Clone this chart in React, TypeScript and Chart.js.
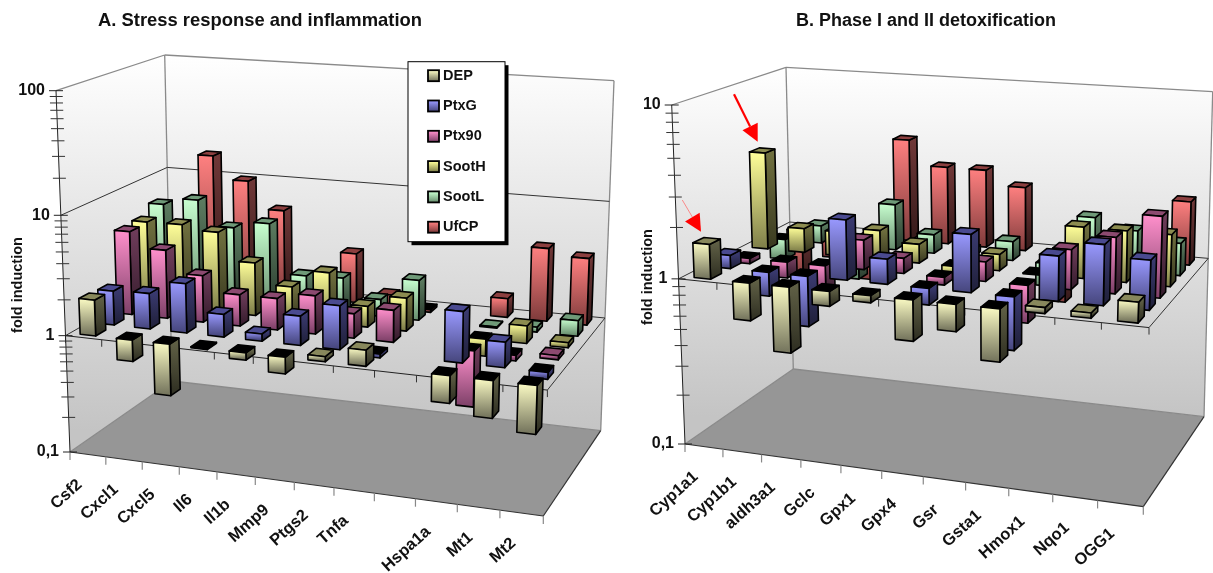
import React, { useEffect, useRef } from "react";
import { Chart, registerables, BarController } from "chart.js";

Chart.register(...registerables);

// ---------- data ----------
const seriesNames = ["DEP", "PtxG", "Ptx90", "SootH", "SootL", "UfCP"];

const categoriesA = ["Csf2", "Cxcl1", "Cxcl5", "Il6", "Il1b", "Mmp9", "Ptgs2", "Tnfa", "", "Hspa1a", "Mt1", "Mt2"];
const depA = [2.0, 0.66, 0.37, 0.98, 0.87, 0.73, 1.1, 1.35, null, 0.6, 0.5, 0.41];
const ptxgA = [1.95, 2.0, 2.6, 1.55, 1.15, 1.75, 2.3, 0.93, null, 2.6, 1.6, 0.88];
const ptx90A = [5.2, 3.85, 2.5, 1.85, 1.85, 2.1, 1.6, 1.85, null, 0.34, 0.9, 1.08];
const sootHA = [5.3, 5.35, 4.9, 2.85, 1.9, 2.7, 1.5, 1.9, null, 0.72, 1.4, 1.1];
const sootLA = [6.4, 7.4, 4.5, 5.2, 1.95, 2.0, 1.4, 2.2, null, 1.02, 1.1, 1.35];
const ufcpA = [3.0, 15.5, 9.8, 5.7, 1.4, 2.7, 1.25, 0.95, null, 1.45, 4.2, 3.7];

const categoriesB = ["Cyp1a1", "Cyp1b1", "aldh3a1", "Gclc", "Gpx1", "Gpx4", "Gsr", "Gsta1", "Hmox1", "Nqo1", "OGG1"];
const depB = [1.6, 0.6, 0.41, 0.82, 0.91, 0.58, 0.7, 0.5, 1.08, 1.07, 1.3];
const ptxgB = [1.2, 0.72, 0.5, 2.25, 1.4, 0.8, 2.15, 0.49, 1.8, 2.2, 1.9];
const ptx90B = [0.93, 0.8, 0.68, 1.5, 1.23, 0.9, 1.3, 0.6, 1.7, 2.1, 2.9];
const sootHB = [3.9, 1.4, 1.4, 1.5, 1.3, 0.87, 1.25, 0.99, 2.0, 2.0, 2.0];
const sootLB = [0.75, 1.28, 0.62, 1.9, 1.3, 1.1, 1.3, 0.73, 2.0, 1.75, 1.55];
const ufcpB = [0.5, 0.7, 0.53, 4.25, 3.0, 3.0, 2.45, 0.5, 1.3, 1.3, 2.4];

const majorTicksA = [0.1, 1, 10, 100];
const majorLabelsA = ["0,1", "1", "10", "100"];
const majorTicksB = [0.1, 1, 10];
const majorLabelsB = ["0,1", "1", "10"];
const minorMultipliers = [2, 3, 4, 5, 6, 7, 8, 9];

// ---------- styling ----------
type Face = { a: string; b: string; sa: string; sb: string; top: string };
const faces: Face[] = [
  { a: "#fbfbc4", b: "#76765e", sa: "#5f5f45", sb: "#2f2f22", top: "#88885c" },
  { a: "#9999ff", b: "#484880", sa: "#3a3a70", sb: "#20203a", top: "#4a4a90" },
  { a: "#ff90cc", b: "#80426a", sa: "#6e3c5a", sb: "#351c2c", top: "#8c4a70" },
  { a: "#ffff99", b: "#80804a", sa: "#70703f", sb: "#3a3a20", top: "#8c8c50" },
  { a: "#c8ffd0", b: "#6a9070", sa: "#5c7c60", sb: "#2c3e30", top: "#6f9a78" },
  { a: "#ff8080", b: "#803c3c", sa: "#703838", sb: "#351a1a", top: "#8c3f3f" },
];
const FONT = '"Liberation Sans", Arial, sans-serif';

type Pt = [number, number];
type Cube = {
  offset: number;
  fl: Pt; fr: Pt; br: Pt; bl: Pt; // floor corners
  tfl: Pt; tfr: Pt; tbr: Pt; tbl: Pt; // top corners
};

const cubeA: Cube = {
  offset: 0,
  fl: [70, 452], fr: [543.3, 516], br: [600.7, 430.7], bl: [172, 381],
  tfl: [56, 90.7], tfr: [556, 125], tbr: [614, 80.7], tbl: [164.7, 55],
};
const cubeB: Cube = {
  offset: 630,
  fl: [55, 444], fr: [513.3, 506.7], br: [574, 416.7], bl: [163.3, 369],
  tfl: [41.7, 105], tfr: [525, 139], tbr: [582.7, 91.7], tbl: [156, 67.3],
};

const PERSP = 0.95;
const BAR_U = 0.43;
const BAR_W = 0.09;

function homography(q: [Pt, Pt, Pt, Pt]) {
  const [p00, p10, p11, p01] = q;
  const dx1 = p10[0] - p11[0], dx2 = p01[0] - p11[0], sx = p00[0] - p10[0] + p11[0] - p01[0];
  const dy1 = p10[1] - p11[1], dy2 = p01[1] - p11[1], sy = p00[1] - p10[1] + p11[1] - p01[1];
  const det = dx1 * dy2 - dx2 * dy1;
  const g = (sx * dy2 - dx2 * sy) / det;
  const h = (dx1 * sy - sx * dy1) / det;
  const a = p10[0] - p00[0] + g * p10[0], b = p01[0] - p00[0] + h * p01[0], c = p00[0];
  const d = p10[1] - p00[1] + g * p10[1], e = p01[1] - p00[1] + h * p01[1], f = p00[1];
  return (u: number, w: number): Pt => {
    const z = g * u + h * w + 1;
    return [(a * u + b * w + c) / z, (d * u + e * w + f) / z];
  };
}

function makeProjector(c: Cube) {
  const floor = homography([c.fl, c.fr, c.br, c.bl]);
  const top = homography([c.tfl, c.tfr, c.tbr, c.tbl]);
  return (u: number, w: number, t: number): Pt => {
    const A = floor(u, w), B = top(u, w);
    const s = (t * PERSP) / (t * PERSP + 1 - t);
    return [A[0] + (B[0] - A[0]) * s, A[1] + (B[1] - A[1]) * s];
  };
}

function poly(ctx: CanvasRenderingContext2D, pts: Pt[], fill: string | CanvasGradient | null, stroke: string | null, lw = 1) {
  ctx.beginPath();
  pts.forEach((p, i) => (i ? ctx.lineTo(p[0], p[1]) : ctx.moveTo(p[0], p[1])));
  ctx.closePath();
  if (fill) { ctx.fillStyle = fill; ctx.fill(); }
  if (stroke) { ctx.strokeStyle = stroke; ctx.lineWidth = lw; ctx.stroke(); }
}
function line(ctx: CanvasRenderingContext2D, a: Pt, b: Pt, color: string, lw = 1) {
  ctx.beginPath(); ctx.moveTo(a[0], a[1]); ctx.lineTo(b[0], b[1]);
  ctx.strokeStyle = color; ctx.lineWidth = lw; ctx.stroke();
}
function tOf(y: any, v: number) {
  return (y.bottom - y.getPixelForValue(v)) / (y.bottom - y.top);
}

// A bar controller whose bars are cuboids projected through the chart's own scales.
class Bar3DController extends (BarController as any) {
  static id = "bar3d";
  draw() {
    const chart = (this as any).chart;
    const ctx: CanvasRenderingContext2D = chart.ctx;
    const { x, y } = chart.scales;
    const cube: Cube = chart.options.plugins.cube3d.cube;
    const proj = makeProjector(cube);
    const idx = (this as any).index;
    const style = faces[idx];
    const rows = chart.data.datasets.length;
    const n = chart.data.labels.length;
    const data = chart.data.datasets[idx].data;
    const w0 = (idx + 0.5) / rows - BAR_W / 2, w1 = w0 + BAR_W;
    const base = tOf(y, 1);
    ctx.save();
    ctx.lineJoin = "round";
    for (let i = 0; i < n; i++) {
      const v = data[i];
      if (v == null) continue;
      const uc = (x.getPixelForValue(i) - x.left) / x.width;
      const hw = BAR_U / n / 2;
      const u0 = uc - hw, u1 = uc + hw;
      const tv = tOf(y, v);
      const hi = Math.max(tv, base), lo = Math.min(tv, base);
      const f: Pt[] = [proj(u0, w0, hi), proj(u1, w0, hi), proj(u1, w0, lo), proj(u0, w0, lo)];
      const s: Pt[] = [proj(u1, w0, hi), proj(u1, w1, hi), proj(u1, w1, lo), proj(u1, w0, lo)];
      const t: Pt[] = [proj(u0, w0, hi), proj(u1, w0, hi), proj(u1, w1, hi), proj(u0, w1, hi)];
      const gf = ctx.createLinearGradient(0, f[0][1], 0, f[3][1]);
      gf.addColorStop(0, style.a); gf.addColorStop(1, style.b);
      const gs = ctx.createLinearGradient(0, f[0][1], 0, f[3][1]);
      gs.addColorStop(0, style.sa); gs.addColorStop(1, style.sb);
      poly(ctx, s, gs, "#000", 1.6);
      poly(ctx, t, v < 1 ? "#000" : style.top, "#000", 1.6);
      poly(ctx, f, gf, "#000", 1.6);
    }
    ctx.restore();
  }
}
Chart.register(Bar3DController as any);

const cubePlugin = {
  id: "cube3d",
  beforeDatasetsDraw(chart: any, _a: any, o: any) {
    const ctx: CanvasRenderingContext2D = chart.ctx;
    const cube: Cube = o.cube;
    const proj = makeProjector(cube);
    const { y } = chart.scales;
    const n = chart.data.labels.length;
    const tFl = 0, tTop = 1;
    ctx.save();
    // walls
    const g = ctx.createLinearGradient(0, cube.tbl[1], 0, cube.br[1]);
    g.addColorStop(0, "#ffffff");
    g.addColorStop(1, "#c4c4c4");
    poly(ctx, [cube.tfl, cube.tbl, cube.bl, cube.fl], g, null);
    poly(ctx, [cube.tbl, cube.tbr, cube.br, cube.bl], g, null);
    // floor
    poly(ctx, [cube.fl, cube.fr, cube.br, cube.bl], "#969696", null);
    const frame = "#8a8a8a";
    line(ctx, cube.tfl, cube.tbl, frame, 1.3);
    line(ctx, cube.tbl, cube.tbr, frame, 1.3);
    line(ctx, cube.tbl, cube.bl, frame, 1.3);
    line(ctx, cube.tbr, cube.br, frame, 1.3);
    line(ctx, cube.bl, cube.fl, frame, 1.3);
    line(ctx, cube.bl, cube.br, frame, 1.3);
    line(ctx, cube.fl, cube.fr, "#333", 1.2);
    line(ctx, cube.fr, cube.br, "#333", 1.2);
    // gridlines at the major ticks
    const majors: number[] = o.majors;
    majors.forEach((m) => {
      const t = tOf(y, m);
      if (t <= tFl + 0.001 || t >= tTop - 0.001) return;
      line(ctx, proj(0, 0, t), proj(0, 1, t), "#333", 1);
      line(ctx, proj(0, 1, t), proj(1, 1, t), "#333", 1);
    });
    // plane at fold induction = 1
    const tb = tOf(y, 1);
    line(ctx, proj(0, 0, tb), proj(1, 0, tb), "#222", 1);
    line(ctx, proj(1, 0, tb), proj(1, 1, tb), "#333", 1);
    for (let i = 0; i <= n; i++) {
      const u = i / n;
      const p = proj(u, 0, tb);
      line(ctx, p, [p[0], p[1] + 7], "#333", 1);
      const q = proj(u, 0, 0);
      line(ctx, q, [q[0], q[1] + 8], "#888", 1.2);
    }
    // value axis
    line(ctx, proj(0, 0, 0), proj(0, 0, 1), "#222", 1);
    ctx.font = `bold 16px ${FONT}`;
    ctx.fillStyle = "#111";
    ctx.textAlign = "right";
    ctx.textBaseline = "middle";
    majors.forEach((m, i) => {
      const p = proj(0, 0, tOf(y, m));
      line(ctx, [p[0] - 7, p[1]], [p[0] + 7, p[1]], "#222", 1);
      ctx.fillText(o.majorLabels[i], p[0] - 11, p[1]);
      if (i < majors.length - 1) {
        minorMultipliers.forEach((k) => {
          const q = proj(0, 0, tOf(y, m * k));
          line(ctx, [q[0] - 6.5, q[1]], [q[0] + 6.5, q[1]], "#333", 1);
        });
      }
    });
    ctx.restore();
  },
  afterDatasetsDraw(chart: any, _a: any, o: any) {
    const ctx: CanvasRenderingContext2D = chart.ctx;
    const cube: Cube = o.cube;
    const proj = makeProjector(cube);
    const { x } = chart.scales;
    const labels: string[] = chart.data.labels;
    ctx.save();
    // category labels, rotated along the floor's front edge
    ctx.font = `bold 16.5px ${FONT}`;
    ctx.fillStyle = "#111";
    ctx.textAlign = "right";
    ctx.textBaseline = "middle";
    labels.forEach((lab, i) => {
      if (!lab) return;
      const u = (x.getPixelForValue(i) - x.left) / x.width;
      const p = proj(u, 0, 0);
      ctx.save();
      ctx.translate(p[0] - 8, p[1] + 28);
      ctx.rotate((-42 * Math.PI) / 180);
      ctx.fillText(lab, 0, 0);
      ctx.restore();
    });
    // value-axis caption
    ctx.save();
    ctx.translate(o.captionX, o.captionY);
    ctx.rotate(-Math.PI / 2);
    ctx.textAlign = "center";
    ctx.font = `bold 14.5px ${FONT}`;
    ctx.fillText("fold induction", 0, 0);
    ctx.restore();
    // legend
    if (o.legend) {
      const L = o.legend;
      ctx.fillStyle = "#000";
      ctx.fillRect(L.x + 3.5, L.y + 3.5, L.w, L.h);
      ctx.fillStyle = "#fff";
      ctx.fillRect(L.x, L.y, L.w, L.h);
      ctx.strokeStyle = "#000";
      ctx.lineWidth = 1;
      ctx.strokeRect(L.x, L.y, L.w, L.h);
      chart.data.datasets.forEach((ds: any, i: number) => {
        const cy = L.y + 14 + i * 30.3;
        const gr = ctx.createLinearGradient(0, cy - 5, 0, cy + 5);
        gr.addColorStop(0, faces[i].a);
        gr.addColorStop(1, faces[i].b);
        ctx.fillStyle = gr;
        ctx.fillRect(L.x + 20, cy - 5.5, 11, 11);
        ctx.strokeStyle = "#000";
        ctx.lineWidth = 1.8;
        ctx.strokeRect(L.x + 20, cy - 5.5, 11, 11);
        ctx.fillStyle = "#111";
        ctx.font = `bold 14.5px ${FONT}`;
        ctx.textAlign = "left";
        ctx.textBaseline = "middle";
        ctx.fillText(ds.label, L.x + 35, cy);
      });
    }
    // red annotation arrows
    (o.arrows || []).forEach((a: any) => {
      const ang = Math.atan2(a.to[1] - a.from[1], a.to[0] - a.from[0]);
      const hx = a.to[0] - Math.cos(ang) * a.head, hy = a.to[1] - Math.sin(ang) * a.head;
      line(ctx, a.from, [hx, hy], a.color, a.lw);
      const nx = -Math.sin(ang) * a.half, ny = Math.cos(ang) * a.half;
      poly(ctx, [a.to, [hx + nx, hy + ny], [hx - nx, hy - ny]], "#ff0000", null);
    });
    ctx.restore();
  },
};

type PanelProps = {
  left: number; width: number; title: string; titleSize: number; labels: string[]; series: (number | null)[][];
  yMax: number; cube: Cube; majors: number[]; majorLabels: string[];
  padding: any; titleBottom: number; captionX: number; captionY: number; legend?: any; arrows?: any[];
};

function Panel(p: PanelProps) {
  const ref = useRef<HTMLCanvasElement | null>(null);
  useEffect(() => {
    const chart = new Chart(ref.current as HTMLCanvasElement, {
      type: "bar3d" as any,
      data: {
        labels: p.labels,
        datasets: seriesNames.map((name, i) => ({
          label: name, data: p.series[i], backgroundColor: faces[i].a, clip: false as any,
        })),
      },
      plugins: [cubePlugin as any],
      options: {
        animation: false,
        responsive: false,
        layout: { padding: p.padding },
        scales: {
          x: { type: "category", display: false, offset: true },
          y: { type: "logarithmic", display: false, min: 0.1, max: p.yMax },
        },
        plugins: {
          legend: { display: false },
          tooltip: { enabled: false },
          title: {
            display: true, text: p.title, color: "#111",
            font: { family: FONT, size: p.titleSize, weight: "bold" },
            padding: { top: 0, bottom: p.titleBottom },
          },
          cube3d: {
            cube: p.cube, majors: p.majors, majorLabels: p.majorLabels,
            captionX: p.captionX, captionY: p.captionY, legend: p.legend, arrows: p.arrows,
          },
        } as any,
      },
    } as any);
    return () => chart.destroy();
  }, []);
  return (
    <canvas ref={ref} width={p.width} height={573}
      style={{ position: "absolute", left: p.left, top: 0, width: p.width, height: 573 }} />
  );
}

const legendBox = { x: 408, y: 61.7, w: 97, h: 180 };
const arrowsB = [
  { from: [104, 94.3], to: [127.7, 141.7], head: 17, half: 8.5, lw: 2.2, color: "#ff0000" },
  { from: [52.3, 200], to: [71, 231.7], head: 17, half: 8.5, lw: 0.8, color: "#ff7070" },
];

export default function App() {
  return (
    <div style={{ position: "absolute", left: 0, top: 0, width: 1213, height: 573, background: "#fff", overflow: "hidden" }}>
      <Panel left={0} width={630} title="A. Stress response and inflammation" titleSize={18.4} labels={categoriesA}
        series={[depA, ptxgA, ptx90A, sootHA, sootLA, ufcpA]} yMax={100} cube={cubeA}
        majors={majorTicksA} majorLabels={majorLabelsA}
        padding={{ left: 56, right: 166, top: 10, bottom: 121 }} titleBottom={57.9}
        captionX={18} captionY={285} legend={legendBox} />
      <Panel left={630} width={583} title="B. Phase I and II detoxification" titleSize={18} labels={categoriesB}
        series={[depB, ptxgB, ptx90B, sootHB, sootLB, ufcpB]} yMax={10} cube={cubeB}
        majors={majorTicksB} majorLabels={majorLabelsB}
        padding={{ left: 41.7, right: 32.7, top: 10, bottom: 129 }} titleBottom={73.4}
        captionX={18} captionY={277} arrows={arrowsB} />
    </div>
  );
}
